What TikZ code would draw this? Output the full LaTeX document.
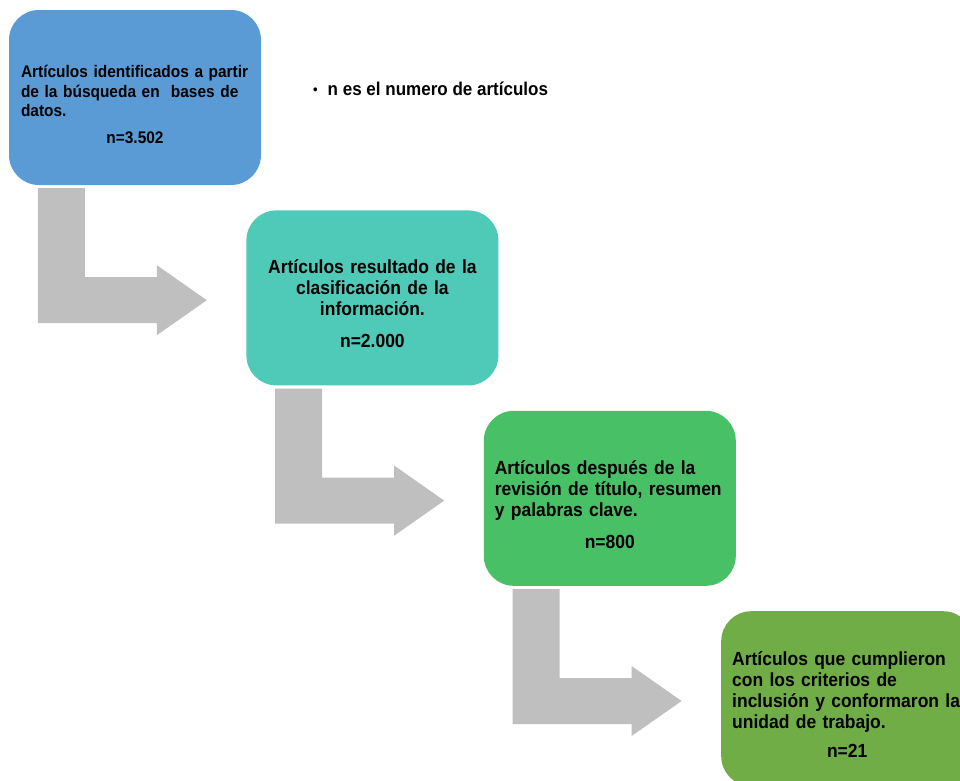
\documentclass[tikz,border=0pt]{standalone}
\usepackage{fontspec}
\setmainfont{Liberation Sans}[FakeStretch=0.92]
\usetikzlibrary{positioning}
\definecolor{stepblue}{RGB}{91,155,213}
\definecolor{stepteal}{RGB}{80,202,184}
\definecolor{stepgreen}{RGB}{72,192,101}
\definecolor{stepolive}{RGB}{112,173,71}
\definecolor{bendgrey}{RGB}{191,191,191}
\newcommand{\toppad}{\rule{0pt}{26pt}}

\begin{document}
\begin{tikzpicture}[x=1pt, y=-1pt,
  box/.style={rectangle, rounded corners=30pt, minimum width=252pt,
    minimum height=175pt, inner sep=0pt, text width=230pt, align=left,
    font=\bfseries\fontsize{19}{21}\selectfont},
  pics/bend/.style={code={
    \fill[bendgrey] (0,0) -- (47,0) -- (47,89) -- (119,89) -- (119,77)
      -- (169,112) -- (119,147) -- (119,135) -- (0,135) -- cycle;}}
]
\useasboundingbox (0,0) rectangle (960,780);
\clip (0,0) rectangle (960,780);

\node[box, fill=stepblue, text width=228pt,
  font=\bfseries\fontsize{16.8}{19.5}\selectfont] (b1) at (135,97.5)
  {\toppad Artículos identificados a partir\\de la búsqueda en\ \ bases de\\datos.\\[7pt]\makebox[\hsize]{n=3.502}};
\node[box, fill=stepteal, align=center, below right=25pt and -15pt of b1] (b2)
  {\toppad Artículos resultado de la\\clasificación de la\\información.\\[11pt]n=2.000};
\node[box, fill=stepgreen, below right=25pt and -15pt of b2] (b3)
  {\toppad Artículos después de la\\revisión de título, resumen\\y palabras clave.\\[11pt]\makebox[\hsize]{n=800}};
\node[box, fill=stepolive, below right=25pt and -15pt of b3] (b4)
  {\toppad Artículos que cumplieron\\con los criterios de\\inclusión y conformaron la\\unidad de trabajo.\\[8pt]\makebox[\hsize]{n=21}};

\node[anchor=base west, inner sep=0pt, font=\bfseries\fontsize{18.5}{21}\selectfont] (note) at (313,95)
  {\raisebox{1pt}{\fontsize{14}{14}\selectfont\textbullet}\hspace{10pt}n es el numero de artículos};

% bent arrows between the steps
\pic at ([xshift=29pt, yshift=-3pt]b1.south west) {bend};
\pic at ([xshift=29pt, yshift=-3pt]b2.south west) {bend};
\pic at ([xshift=29pt, yshift=-3pt]b3.south west) {bend};
\end{tikzpicture}
\end{document}
